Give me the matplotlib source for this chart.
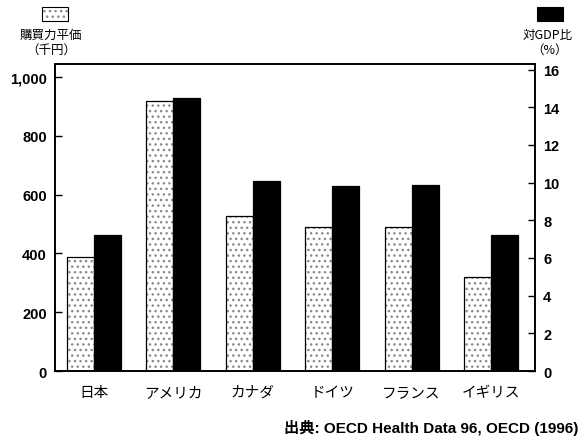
import matplotlib
matplotlib.use("Agg")
import matplotlib.pyplot as plt
import numpy as np
from matplotlib.patches import Rectangle
from matplotlib.ticker import FuncFormatter

categories = ["日本", "アメリカ", "カナダ", "ドイツ", "フランス", "イギリス"]
ppp_values = [388, 918, 526, 489, 489, 321]          # 購買力平価（千円）
gdp_ratio = [7.2, 14.5, 10.1, 9.8, 9.9, 7.2]          # 対GDP比（%）
left_ticks = [0, 200, 400, 600, 800, 1000]
right_ticks = [0, 2, 4, 6, 8, 10, 12, 14, 16]

JP = ["Noto Sans CJK JP", "DejaVu Sans"]
LAT = ["Liberation Sans", "Noto Sans CJK JP"]

fig = plt.figure(figsize=(5.8, 4.39), dpi=100)
ax = fig.add_axes([0.0948, 0.1526, 0.8272, 0.6994])
ax2 = ax.twinx()

x = np.arange(len(categories))
w = 0.34

# dotted bars (left axis)
ax.bar(x - w / 2, ppp_values, width=w, color="white", edgecolor="#8a8a8a",
       hatch="...", linewidth=0, zorder=2)
ax.bar(x - w / 2, ppp_values, width=w, fill=False, edgecolor="black",
       linewidth=0.9, zorder=3)
# black bars (right axis)
ax2.bar(x + w / 2, gdp_ratio, width=w, color="black", edgecolor="black",
        linewidth=0.9, zorder=3)

ax.set_xlim(-0.49, 5.55)
ax.set_ylim(0, 1044)
ax2.set_ylim(0, 16.3)

ax.set_yticks(left_ticks)
ax.yaxis.set_major_formatter(FuncFormatter(lambda v, p: f"{int(v):,}"))
ax2.set_yticks(right_ticks)

ax.set_xticks(x)
ax.set_xticklabels(categories, family=JP, fontsize=10.5)
ax.tick_params(axis="x", length=0, pad=10)
ax.tick_params(axis="y", direction="in", length=5, width=1, pad=6)
ax2.tick_params(axis="y", direction="in", length=5, width=1, pad=6)
for lab in ax.get_yticklabels() + ax2.get_yticklabels():
    lab.set_family(LAT)
    lab.set_fontweight("bold")
    lab.set_fontsize(10.5)

for a in (ax, ax2):
    for s in a.spines.values():
        s.set_linewidth(1.2)

# legend-like headers
fig.patches.append(Rectangle((42 / 580, 1 - 22 / 439), 26 / 580, 14 / 439,
                             transform=fig.transFigure, facecolor="white",
                             edgecolor="#8a8a8a", linewidth=0, hatch="...",
                             figure=fig))
fig.patches.append(Rectangle((42 / 580, 1 - 22 / 439), 26 / 580, 14 / 439,
                             transform=fig.transFigure, fill=False,
                             edgecolor="black", linewidth=0.8, figure=fig))
fig.patches.append(Rectangle((537 / 580, 1 - 22 / 439), 26 / 580, 14 / 439,
                             transform=fig.transFigure, facecolor="black",
                             edgecolor="black", linewidth=0.8, figure=fig))
fig.text(51 / 580, 1 - 35 / 439, "購買力平価", family=JP, fontsize=9,
         ha="center", va="center")
fig.text(51 / 580, 1 - 50 / 439, "（千円）", family=JP, fontsize=9,
         ha="center", va="center")
fig.text(548 / 580, 1 - 35 / 439, "対GDP比", family=JP, fontsize=9,
         ha="center", va="center")
fig.text(550 / 580, 1 - 50 / 439, "（%）", family=JP, fontsize=9,
         ha="center", va="center")

fig.text(578 / 580, 1 - 428 / 439, "出典: OECD Health Data 96, OECD (1996)",
         family=LAT, fontweight="bold", fontsize=11, ha="right", va="center")

fig.savefig("out.png", dpi=100)
